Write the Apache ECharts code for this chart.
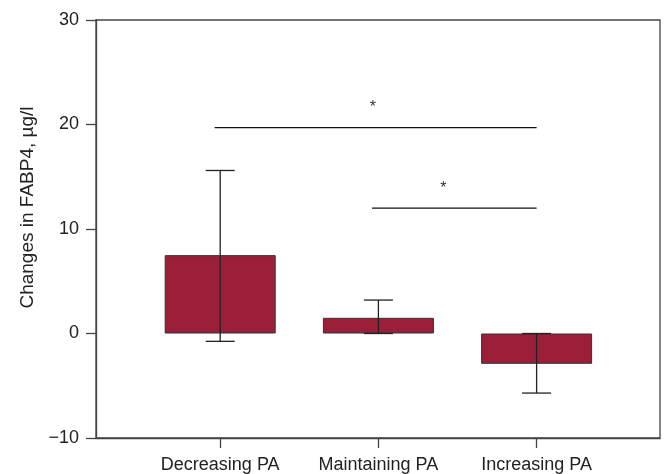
<!DOCTYPE html>
<html>
<head>
<meta charset="utf-8">
<script src="https://cdn.jsdelivr.net/npm/echarts@6/dist/echarts.min.js"></script>
<style>html,body{margin:0;padding:0;background:#fff}#c{width:665px;height:474px}</style>
</head>
<body>
<div id="c"></div>
<script>
const categories = ['Decreasing PA', 'Maintaining PA', 'Increasing PA'];
const positions = [1, 2, 3];
const barValues = [7.5, 1.5, -2.9];
const errLow = [-0.75, 0.0, -5.7];
const errHigh = [15.6, 3.2, 0.0];
const sigStart = [0.965, 1.96];
const sigEnd = [3.0, 3.0];
const sigY = [19.7, 12.0];
const starX = [1.965, 2.41];
const starY = [21.6, 13.9];
const yTicks = [-10, 0, 10, 20, 30];

const chart = echarts.init(document.getElementById('c'));
const font = 'Liberation Sans, Arial, sans-serif';
const ink = '#222';

chart.setOption({
  animation: false,
  grid: { left: 96, top: 20, right: 5, bottom: 36, show: true, borderColor: '#444', borderWidth: 1.3 },
  xAxis: {
    type: 'value', min: 0.215, max: 3.78,
    splitLine: { show: false },
    axisLine: { onZero: false, lineStyle: { color: '#444', width: 1.3 } },
    axisTick: { show: true, length: 10, inside: false, customValues: positions, lineStyle: { color: '#444', width: 1.3 } },
    axisLabel: {
      customValues: positions, margin: 18, fontSize: 18, fontFamily: font, color: ink,
      formatter: v => categories[positions.indexOf(Math.round(v))] || ''
    }
  },
  yAxis: {
    type: 'value', min: -10, max: 30, interval: 10,
    splitLine: { show: false },
    axisLine: { show: true, onZero: false, lineStyle: { color: '#444', width: 1.3 } },
    axisTick: { show: true, length: 10, lineStyle: { color: '#444', width: 1.3 } },
    axisLabel: { margin: 17, fontSize: 18, fontFamily: font, color: ink,
      formatter: v => v < 0 ? '\u2212' + Math.abs(v) : String(v) },
    name: 'Changes in FABP4, \u00b5g/l', nameLocation: 'middle', nameGap: 57,
    nameTextStyle: { fontSize: 19, fontFamily: font, color: ink, padding: [0, 0, 0, 43] }
  },
  series: [
    {
      type: 'bar', barWidth: 111,
      data: positions.map((p, i) => [p, barValues[i]]),
      itemStyle: { color: '#9B1F38', borderColor: '#333', borderWidth: 1 }
    },
    {
      type: 'custom', z: 5,
      data: positions.map((p, i) => [p, errLow[i], errHigh[i]]),
      renderItem: (params, api) => {
        const lo = api.coord([api.value(0), api.value(1)]);
        const hi = api.coord([api.value(0), api.value(2)]);
        const w = 14.5;
        const st = { stroke: '#222', lineWidth: 1.3 };
        return { type: 'group', children: [
          { type: 'line', shape: { x1: lo[0], y1: lo[1], x2: hi[0], y2: hi[1] }, style: st },
          { type: 'line', shape: { x1: lo[0] - w, y1: lo[1], x2: lo[0] + w, y2: lo[1] }, style: st },
          { type: 'line', shape: { x1: hi[0] - w, y1: hi[1], x2: hi[0] + w, y2: hi[1] }, style: st }
        ]};
      }
    },
    {
      type: 'custom', z: 5,
      data: sigStart.map((s, i) => [s, sigEnd[i], sigY[i], starX[i], starY[i]]),
      renderItem: (params, api) => {
        const a = api.coord([api.value(0), api.value(2)]);
        const b = api.coord([api.value(1), api.value(2)]);
        const s = api.coord([api.value(3), api.value(4)]);
        return { type: 'group', children: [
          { type: 'line', shape: { x1: a[0], y1: a[1], x2: b[0], y2: b[1] }, style: { stroke: '#111', lineWidth: 1.3 } },
          { type: 'text', x: s[0], y: s[1], style: { text: '*', fontSize: 16, fontFamily: font, fill: '#333', align: 'center', verticalAlign: 'middle' } }
        ]};
      }
    }
  ]
});
</script>
</body>
</html>
